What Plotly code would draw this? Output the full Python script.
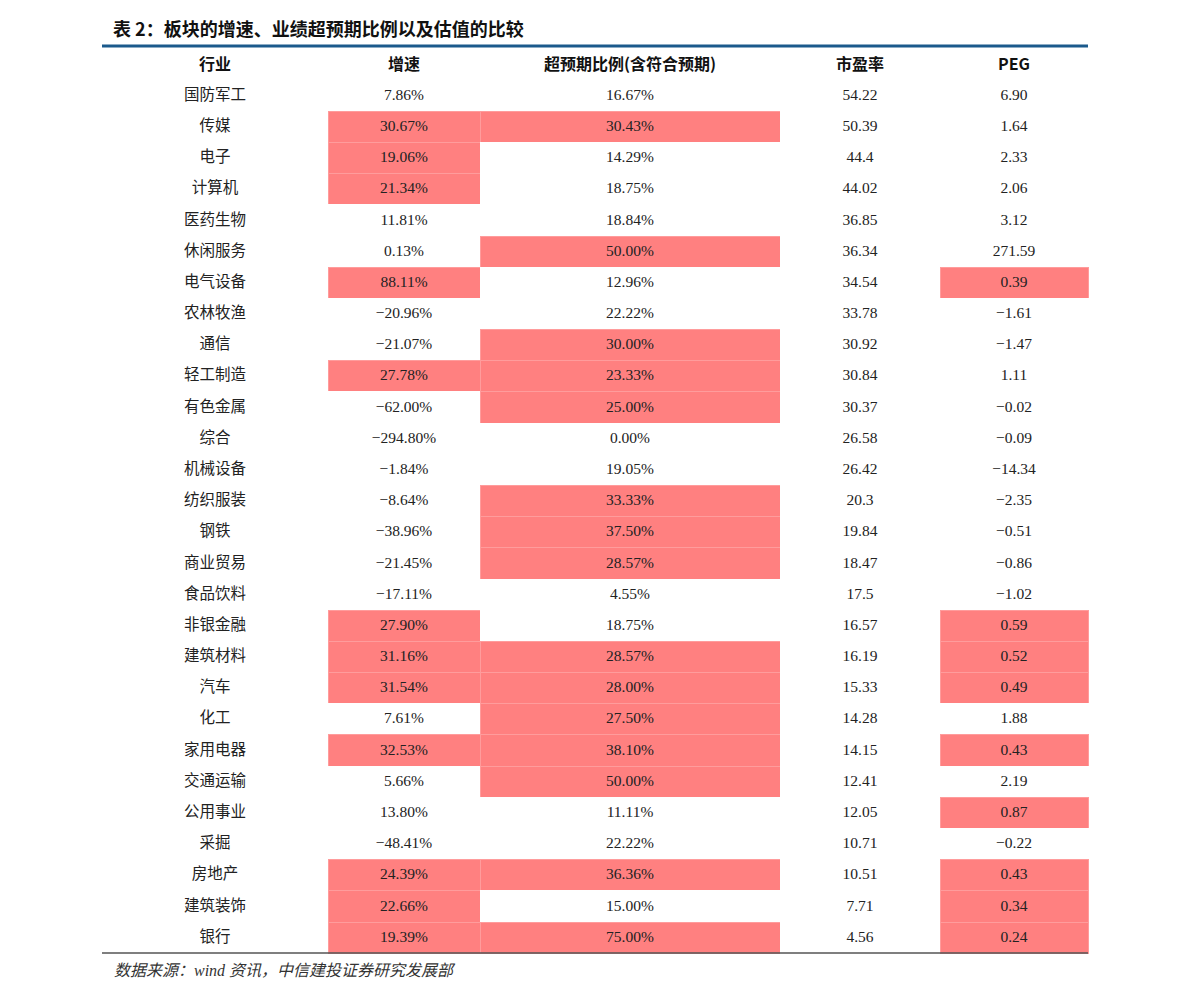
import plotly.graph_objects as go

industries = ["国防军工", "传媒", "电子", "计算机", "医药生物", "休闲服务", "电气设备", "农林牧渔",
              "通信", "轻工制造", "有色金属", "综合", "机械设备", "纺织服装", "钢铁", "商业贸易",
              "食品饮料", "非银金融", "建筑材料", "汽车", "化工", "家用电器", "交通运输", "公用事业",
              "采掘", "房地产", "建筑装饰", "银行"]
growth = ["7.86%", "30.67%", "19.06%", "21.34%", "11.81%", "0.13%", "88.11%", "-20.96%",
          "-21.07%", "27.78%", "-62.00%", "-294.80%", "-1.84%", "-8.64%", "-38.96%", "-21.45%",
          "-17.11%", "27.90%", "31.16%", "31.54%", "7.61%", "32.53%", "5.66%", "13.80%",
          "-48.41%", "24.39%", "22.66%", "19.39%"]
beat_ratio = ["16.67%", "30.43%", "14.29%", "18.75%", "18.84%", "50.00%", "12.96%", "22.22%",
              "30.00%", "23.33%", "25.00%", "0.00%", "19.05%", "33.33%", "37.50%", "28.57%",
              "4.55%", "18.75%", "28.57%", "28.00%", "27.50%", "38.10%", "50.00%", "11.11%",
              "22.22%", "36.36%", "15.00%", "75.00%"]
pe = ["54.22", "50.39", "44.4", "44.02", "36.85", "36.34", "34.54", "33.78",
      "30.92", "30.84", "30.37", "26.58", "26.42", "20.3", "19.84", "18.47",
      "17.5", "16.57", "16.19", "15.33", "14.28", "14.15", "12.41", "12.05",
      "10.71", "10.51", "7.71", "4.56"]
peg = ["6.90", "1.64", "2.33", "2.06", "3.12", "271.59", "0.39", "-1.61",
       "-1.47", "1.11", "-0.02", "-0.09", "-14.34", "-2.35", "-0.51", "-0.86",
       "-1.02", "0.59", "0.52", "0.49", "1.88", "0.43", "2.19", "0.87",
       "-0.22", "0.43", "0.34", "0.24"]
headers = ["行业", "增速", "超预期比例(含符合预期)", "市盈率", "PEG"]
col_widths = [226, 152, 300, 160, 148]

RED = "#FF8080"
WHITE = "#FFFFFF"
RED_LINE = "#FF9C9C"


def pct(s):
    return float(s.rstrip("%"))


def show(vals):
    return [v.replace("-", "\u2212") for v in vals]


hl_growth = [pct(v) > 15 for v in growth]
hl_beat = [pct(v) > 23 for v in beat_ratio]
hl_peg = [0 < float(v) < 1 for v in peg]
no_hl = [False] * len(industries)

flags = [no_hl, hl_growth, hl_beat, no_hl, hl_peg]
fills = [[RED if f else WHITE for f in col] for col in flags]
lines = [[RED_LINE if f else WHITE for f in col] for col in flags]

# page has an 8px body margin; figure fits inside the viewport
OFF = 8
W, H = 1191 - 2 * OFF, 998 - 2 * OFF


def px(x):
    return (x - OFF) / W


def py(y):
    return 1 - (y - OFF) / H


x0, x1 = 102, 1088
table_top = 64.2  # empty table header (~15px) sits above the first row

fig = go.Figure(go.Table(
    domain=dict(x=[px(x0), px(x1)], y=[0, py(table_top)]),
    columnwidth=col_widths,
    header=dict(values=[], height=0,
                fill=dict(color=WHITE), line=dict(color=WHITE, width=0)),
    cells=dict(
        values=[industries, show(growth), show(beat_ratio), show(pe), show(peg)],
        height=31.18,
        align="center",
        fill=dict(color=fills),
        line=dict(color=lines, width=1),
        font=dict(family="Liberation Serif, Noto Sans CJK SC", size=15.5, color="#222222"),
    ),
))

# column header labels, centred over the table columns
total = sum(col_widths)
left = x0
for h, cw in zip(headers, col_widths):
    w_px = cw / total * (x1 - x0)
    fig.add_annotation(text="<b>%s</b>" % h, xref="paper", yref="paper",
                       x=px(left + w_px / 2), y=py(63), xanchor="center", yanchor="middle",
                       showarrow=False,
                       font=dict(family="Noto Sans CJK SC", size=16, color="#111111"))
    left += w_px

fig.add_shape(type="line", xref="paper", yref="paper",
              x0=px(x0), x1=px(x1), y0=py(46), y1=py(46),
              line=dict(color="#1B5A8C", width=3))
fig.add_shape(type="line", xref="paper", yref="paper",
              x0=px(x0), x1=px(x1), y0=py(953), y1=py(953),
              line=dict(color="#555555", width=1.5))

fig.add_annotation(text="<b>表 2：板块的增速、业绩超预期比例以及估值的比较</b>",
                   xref="paper", yref="paper", x=px(111), y=py(28),
                   xanchor="left", yanchor="middle", showarrow=False,
                   font=dict(family="Noto Sans CJK SC", size=18, color="#111111"))
fig.add_annotation(text="<i>数据来源：wind 资讯，中信建投证券研究发展部</i>",
                   xref="paper", yref="paper", x=px(112), y=py(970),
                   xanchor="left", yanchor="middle", showarrow=False,
                   font=dict(family="Liberation Serif, Noto Sans CJK SC", size=16, color="#333333"))

fig.update_layout(width=W, height=H, autosize=False,
                  margin=dict(l=0, r=0, t=0, b=0),
                  paper_bgcolor="white", plot_bgcolor="white")

fig.write_html("out.html")
